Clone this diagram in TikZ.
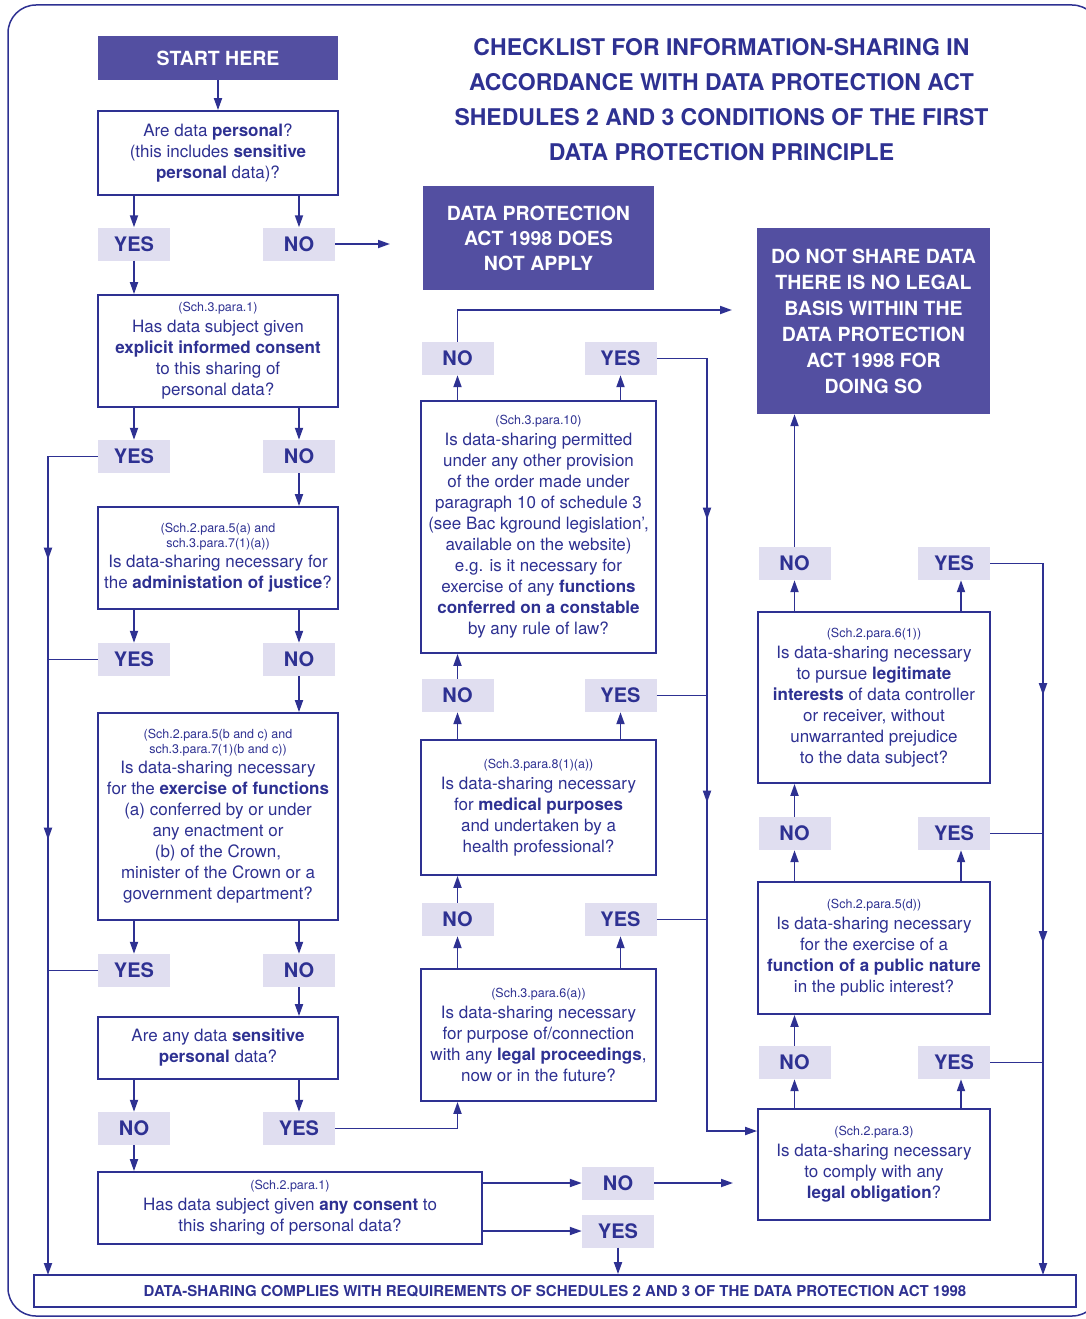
\documentclass[tikz,border=0pt]{standalone}
\usepackage{fontspec}
\setmainfont{TeX Gyre Heros}
\usepackage{xcolor}
\usetikzlibrary{arrows.meta, positioning, decorations.markings}
\definecolor{navy}{RGB}{46,49,146}
\definecolor{boxfill}{RGB}{83,79,161}
\definecolor{labfill}{RGB}{224,222,240}
\newcommand{\qsz}{\fontsize{17}{21}\selectfont}
\newcommand{\refsz}{\fontsize{12.5}{15}\selectfont}
\newcommand{\labsz}{\fontsize{20}{24}\selectfont\bfseries}
\newcommand{\fillsz}{\fontsize{19.5}{25}\selectfont\bfseries}
\newcommand{\titsz}{\fontsize{23}{35}\selectfont\bfseries}
\newcommand{\botsz}{\fontsize{15}{18}\selectfont\bfseries}

\begin{document}
\begin{tikzpicture}[x=1pt,y=-1pt,
  qbox/.style={draw=navy,line width=1.8pt,fill=white,align=center,font=\qsz,text=navy,inner sep=0pt,minimum width=240pt},
  lab/.style={fill=labfill,text=navy,font=\labsz,minimum width=72pt,minimum height=33pt,inner sep=0pt},
  fillbox/.style={fill=boxfill,text=white,font=\fillsz,align=center,inner sep=0pt},
  arr/.style={draw=navy,line width=1.8pt,-{Triangle[length=12pt,width=8pt]}},
  link/.style={draw=navy,line width=1.8pt},
  midarrows/.style 2 args={postaction={decorate},decoration={markings,
    mark=at position #1 with {\arrow{Triangle[length=12pt,width=8pt]}},
    mark=at position #2 with {\arrow{Triangle[length=12pt,width=8pt]}}}}]
\useasboundingbox (0,0) rectangle (1086,1319);
\draw[navy,line width=1.5pt,rounded corners=28pt] (8,5) rectangle (1100,1316);

% title
\node[font=\titsz,text=navy,align=center] (title) at (721.5,99.5)
  {CHECKLIST FOR INFORMATION-SHARING IN\\ACCORDANCE WITH DATA PROTECTION ACT\\SHEDULES 2 AND 3 CONDITIONS OF THE FIRST\\DATA PROTECTION PRINCIPLE};

% left column
\node[fillbox,minimum width=240pt,minimum height=44pt] (start) at (218,58) {START HERE};
\node[qbox,minimum height=84pt] (q1) at (218,153) {Are data \textbf{personal}?\\(this includes \textbf{sensitive}\\\textbf{personal} data)?};
\node[lab] (y1) at (134,244) {YES};
\node[lab] (n1) at (299,244) {NO};
\coordinate (na) at (390,244);
\node[qbox,minimum height=112pt] (q2) at (218,351) {\refsz(Sch.3.para.1)\\Has data subject given\\\textbf{explicit informed consent}\\to this sharing of\\personal data?};
\node[lab] (y2) at (134,456.5) {YES};
\node[lab] (n2) at (299,456.5) {NO};
\node[qbox,minimum height=102pt] (q3) at (218,558) {\refsz(Sch.2.para.5(a) and\\[-6pt]\refsz sch.3.para.7(1)(a))\\[-1pt]Is data-sharing necessary for\\the \textbf{administation of justice}?};
\node[lab] (y3) at (134,659.5) {YES};
\node[lab] (n3) at (299,659.5) {NO};
\node[qbox,minimum height=207pt] (q4) at (218,816.5) {\refsz(Sch.2.para.5(b and c) and\\[-6pt]\refsz sch.3.para.7(1)(b and c))\\[-1pt]Is data-sharing necessary\\for the \textbf{exercise of functions}\\(a) conferred by or under\\any enactment or\\(b) of the Crown,\\minister of the Crown or a\\government department?};
\node[lab] (y4) at (134,970.5) {YES};
\node[lab] (n4) at (299,970.5) {NO};
\node[qbox,minimum height=62pt] (q5) at (218,1048) {Are any data \textbf{sensitive}\\\textbf{personal} data?};
\node[lab] (n5) at (134,1128.5) {NO};
\node[lab] (y5) at (299,1128.5) {YES};
\node[qbox,minimum width=384pt,minimum height=72pt] (q6) at (290,1208) {\refsz(Sch.2.para.1)\\Has data subject given \textbf{any consent} to\\this sharing of personal data?};
\node[lab] (nq6) at (618,1183) {NO};
\node[lab] (yq6) at (618,1231) {YES};
\coordinate (nb) at (733,1183);
\node[draw=navy,line width=1.8pt,minimum width=1042pt,minimum height=32pt,inner sep=0pt,font=\botsz,text=navy] (comply) at (555,1291)
  {DATA-SHARING COMPLIES WITH REQUIREMENTS OF SCHEDULES 2 AND 3 OF THE DATA PROTECTION ACT 1998\hspace{14pt}};

% middle column
\node[fillbox,minimum width=231pt,minimum height=104pt] (dpa) at (538.5,238) {DATA PROTECTION\\ACT 1998 DOES\\NOT APPLY};
\node[lab] (nm3) at (457.5,358.5) {NO};
\node[lab] (ym3) at (620.5,358.5) {YES};
\coordinate (nc) at (732,310);
\node[qbox,minimum width=235pt,minimum height=252pt] (m3) at (538.5,527) {\refsz(Sch.3.para.10)\\Is data-sharing permitted\\under any other provision\\of the order made under\\paragraph 10 of schedule 3\\(see Bac kground legislation’,\\available on the website)\\e.g. is it necessary for\\exercise of any \textbf{functions}\\\textbf{conferred on a constable}\\by any rule of law?};
\node[lab] (nm2) at (457.5,695.5) {NO};
\node[lab] (ym2) at (620.5,695.5) {YES};
\node[qbox,minimum width=235pt,minimum height=135pt] (m2) at (538.5,807.5) {\refsz(Sch.3.para.8(1)(a))\\Is data-sharing necessary\\for \textbf{medical purposes}\\and undertaken by a\\health professional?};
\node[lab] (nm1) at (457.5,919.5) {NO};
\node[lab] (ym1) at (620.5,919.5) {YES};
\node[qbox,minimum width=235pt,minimum height=132pt] (m1) at (538.5,1035) {\refsz(Sch.3.para.6(a))\\Is data-sharing necessary\\for purpose of/connection\\with any \textbf{legal proceedings},\\now or in the future?};
\coordinate (mj) at (707,1131);

% right column
\node[fillbox,minimum width=233pt,minimum height=186pt] (dns) at (873.5,321) {DO NOT SHARE DATA\\[1pt]THERE IS NO LEGAL\\[1pt]BASIS WITHIN THE\\[1pt]DATA PROTECTION\\[1pt]ACT 1998 FOR\\[1pt]DOING SO};
\node[lab] (nr3) at (794.5,563.5) {NO};
\node[lab] (yr3) at (954,563.5) {YES};
\node[qbox,minimum width=232pt,minimum height=171pt] (r3) at (874,697.5) {\refsz(Sch.2.para.6(1))\\Is data-sharing necessary\\to pursue \textbf{legitimate}\\\textbf{interests} of data controller\\or receiver, without\\unwarranted prejudice\\to the data subject?};
\node[lab] (nr2) at (794.5,833.5) {NO};
\node[lab] (yr2) at (954,833.5) {YES};
\node[qbox,minimum width=232pt,minimum height=132pt] (r2) at (874,948) {\refsz(Sch.2.para.5(d))\\Is data-sharing necessary\\for the exercise of a\\\textbf{function of a public nature}\\in the public interest?};
\node[lab] (nr1) at (794.5,1062.5) {NO};
\node[lab] (yr1) at (954,1062.5) {YES};
\node[qbox,minimum width=232pt,minimum height=111pt] (r1) at (874,1164.5) {\refsz(Sch.2.para.3)\\Is data-sharing necessary\\to comply with any\\\textbf{legal obligation}?};
\coordinate (rj) at (1043,1275);
\coordinate (lj) at (48,1275);
\coordinate (yr1a) at ([xshift=7pt]yr1.south);
\coordinate (yr2a) at ([xshift=7pt]yr2.south);
\coordinate (yr3a) at ([xshift=7pt]yr3.south);

% left connectors
\draw[arr] (start) -- (q1);
\draw[arr] (q1.south -| y1) -- (y1);
\draw[arr] (q1.south -| n1) -- (n1);
\draw[arr] (n1) -- (na);
\draw[arr] (y1) -- (q2.north -| y1);
\draw[arr] (q2.south -| y2) -- (y2);
\draw[arr] (q2.south -| n2) -- (n2);
\draw[arr] (n2) -- (q3.north -| n2);
\draw[arr] (q3.south -| y3) -- (y3);
\draw[arr] (q3.south -| n3) -- (n3);
\draw[arr] (n3) -- (q4.north -| n3);
\draw[arr] (q4.south -| y4) -- (y4);
\draw[arr] (q4.south -| n4) -- (n4);
\draw[arr] (n4) -- (q5.north -| n4);
\draw[arr] (q5.south -| n5) -- (n5);
\draw[arr] (q5.south -| y5) -- (y5);
\draw[arr] (n5) -- (q6.north -| n5);
\draw[arr] (y5) -| (m1.south -| nm1);
\draw[arr] (q6.east |- nq6) -- (nq6);
\draw[arr] (nq6) -- (nb);
\draw[arr] (q6.east |- yq6) -- (yq6);
\draw[arr] (yq6) -- (comply.north -| yq6);
\draw[arr,midarrows={153pt}{433pt}] (y2.west) -| (lj);
\draw[link] (y3.west) -- (y3.west -| lj);
\draw[link] (y4.west) -- (y4.west -| lj);

% middle connectors
\draw[arr] (m1.north -| nm1) -- (nm1);
\draw[arr] (m1.north -| ym1) -- (ym1);
\draw[arr] (nm1) -- (m2.south -| nm1);
\draw[arr] (m2.north -| nm2) -- (nm2);
\draw[arr] (m2.north -| ym2) -- (ym2);
\draw[arr] (nm2) -- (m3.south -| nm2);
\draw[arr] (m3.north -| nm3) -- (nm3);
\draw[arr] (m3.north -| ym3) -- (ym3);
\draw[arr] (nm3) |- (nc);
\draw[arr,midarrows={211.5pt}{494.5pt}] (ym3.east) -| (mj) -- (mj -| r1.west);
\draw[link] (ym2.east) -- (ym2.east -| mj);
\draw[link] (ym1.east) -- (ym1.east -| mj);

% right connectors
\draw[arr] (r1.north -| nr1) -- (nr1);
\draw[arr] (r1.north -| yr1a) -- (yr1a);
\draw[arr] (nr1) -- (r2.south -| nr1);
\draw[arr] (r2.north -| nr2) -- (nr2);
\draw[arr] (r2.north -| yr2a) -- (yr2a);
\draw[arr] (nr2) -- (r3.south -| nr2);
\draw[arr] (r3.north -| nr3) -- (nr3);
\draw[arr] (r3.north -| yr3a) -- (yr3a);
\draw[arr] (nr3) -- (dns.south -| nr3);
\draw[arr,midarrows={184.5pt}{432.5pt}] (yr3.east) -| (rj);
\draw[link] (yr2.east) -- (yr2.east -| rj);
\draw[link] (yr1.east) -- (yr1.east -| rj);
\end{tikzpicture}
\end{document}
